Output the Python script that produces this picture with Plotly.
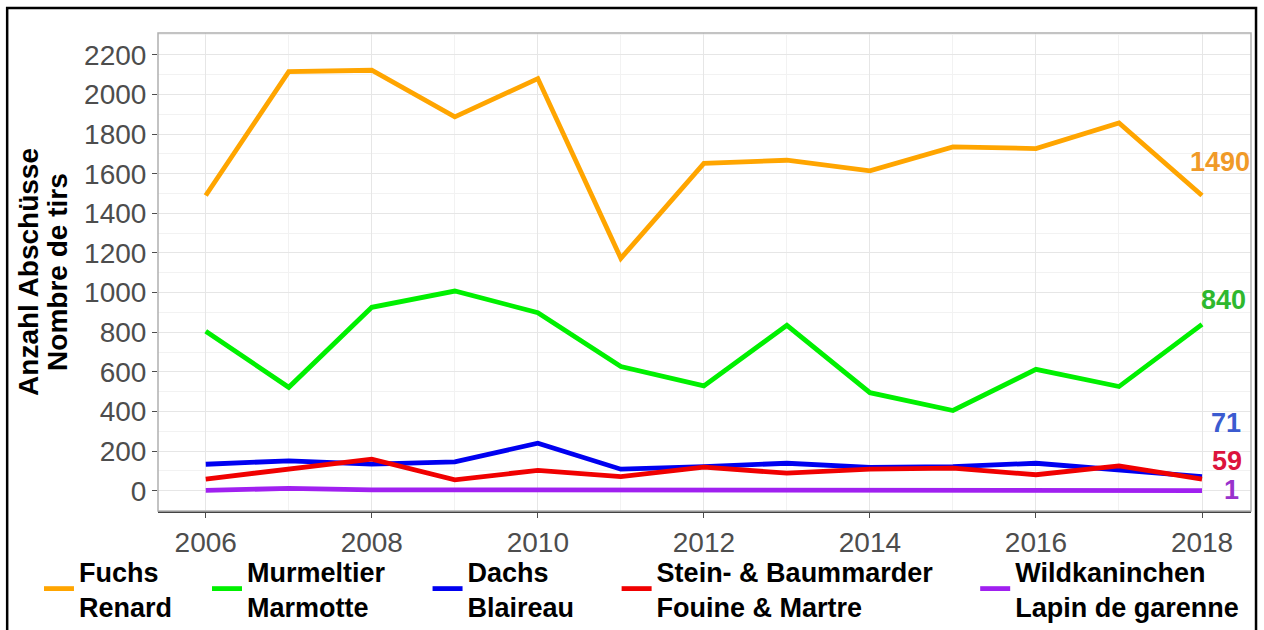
import plotly.graph_objects as go

years = list(range(2006, 2019))
fuchs = [1490, 2115, 2122, 1887, 2080, 1173, 1652, 1668, 1614, 1735, 1727, 1856, 1490]
murmeltier = [805, 522, 926, 1008, 899, 627, 529, 835, 495, 405, 613, 526, 840]
dachs = [134, 151, 135, 146, 240, 109, 122, 139, 118, 122, 139, 106, 71]
marder = [59, 109, 160, 55, 103, 72, 119, 89, 109, 114, 81, 126, 59]
kaninchen = [2, 12, 5, 5, 6, 4, 4, 4, 1, 3, 3, 3, 1]

names_de = ["Fuchs", "Murmeltier", "Dachs", "Stein- &amp; Baummarder", "Wildkaninchen"]
names_fr = ["Renard", "Marmotte", "Blaireau", "Fouine &amp; Martre", "Lapin de garenne"]
series_values = [fuchs, murmeltier, dachs, marder, kaninchen]
line_colors = ["#FFA500", "#00F000", "#0000F0", "#F00000", "#A020F0"]
label_colors = ["#F09A28", "#2EB82E", "#3B5BD0", "#DC143C", "#9932CC"]
# label placement (data units) for end-of-line value labels
label_x = [2018.22, 2018.26, 2018.29, 2018.30, 2018.35]
label_y = [1658, 963, 343, 151, 5]

y_ticks = list(range(0, 2201, 200))
x_ticks = list(range(2006, 2019, 2))

FONT = "Liberation Sans, Arial, sans-serif"
PADS = [4, 5, 5, 5, 0]

fig = go.Figure()
for de, fr, vals, col, p in zip(names_de, names_fr, series_values, line_colors, PADS):
    pad = "\u00a0" * p
    name = "<b>%s%s</b><br><b>%s%s</b>" % (de, pad, fr, pad)
    fig.add_trace(go.Scatter(x=years, y=vals, mode="lines", name=name,
                             line=dict(color=col, width=4.8)))

for vals, col, lx, ly in zip(series_values, label_colors, label_x, label_y):
    fig.add_annotation(x=lx, y=ly, xref="x", yref="y", text="<b>%d</b>" % vals[-1],
                       showarrow=False, font=dict(family=FONT, size=27, color=col),
                       xanchor="center", yanchor="middle")

# y-axis title (two lines)
fig.add_annotation(x=-0.119, y=0.5, xref="paper", yref="paper", text="<b>Anzahl Abschüsse</b>",
                   textangle=-90, showarrow=False, xanchor="center", yanchor="middle",
                   font=dict(family=FONT, size=28, color="black"))
fig.add_annotation(x=-0.0925, y=0.5, xref="paper", yref="paper", text="<b>Nombre de tirs</b>",
                   textangle=-90, showarrow=False, xanchor="center", yanchor="middle",
                   font=dict(family=FONT, size=28, color="black"))

# panel border
fig.add_shape(type="rect", xref="paper", yref="paper", x0=0, y0=0, x1=1, y1=1,
              line=dict(color="#B0B0B0", width=1.5), layer="above")
# outer black frame
fig.add_shape(type="rect", xref="paper", yref="paper", x0=-0.138, y0=-0.3, x1=1.0046, y1=1.0523,
              line=dict(color="black", width=2.5), layer="above")

fig.update_layout(
    width=1264, height=630,
    margin=dict(l=158, r=13, t=33, b=119, autoexpand=False),
    paper_bgcolor="white", plot_bgcolor="white",
    font=dict(family=FONT),
    showlegend=True,
    legend=dict(orientation="h", x=-0.1089, y=-0.0753, xanchor="left", yanchor="top",
                font=dict(family=FONT, size=27, color="black"), traceorder="normal",
                bgcolor="rgba(0,0,0,0)"),
    xaxis=dict(range=[2005.425, 2018.59], tickvals=x_ticks, ticktext=[str(v) for v in x_ticks],
               showgrid=True, gridcolor="#E6E6E6", gridwidth=1,
               minor=dict(dtick=1, tick0=2006, showgrid=True, gridcolor="#F2F2F2", gridwidth=1),
               ticks="outside", ticklen=5, tickcolor="#4D4D4D",
               showline=True, linecolor="#444444", linewidth=2,
               tickfont=dict(family=FONT, size=28, color="#4D4D4D"), zeroline=False),
    yaxis=dict(range=[-102, 2310], tickvals=y_ticks, ticktext=[str(v) for v in y_ticks],
               showgrid=True, gridcolor="#E6E6E6", gridwidth=1,
               minor=dict(dtick=100, tick0=0, showgrid=True, gridcolor="#F2F2F2", gridwidth=1),
               ticks="outside", ticklen=5, tickcolor="#4D4D4D",
               tickfont=dict(family=FONT, size=28, color="#4D4D4D"), zeroline=False),
)

fig.write_html("out.html", config={"displayModeBar": False},
               post_script="document.body.style.margin='0px';document.body.style.overflow='hidden';")
